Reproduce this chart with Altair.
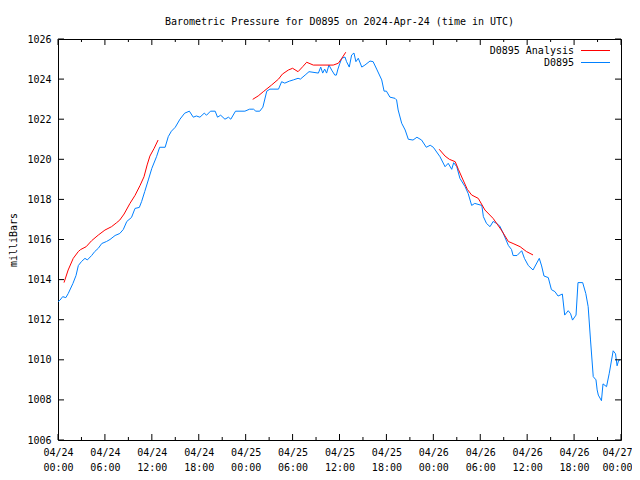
import altair as alt
import pandas as pd

# ---------------- data ----------------
station_hours = [
    0.0, 0.26, 0.6, 1.0, 1.3, 1.9, 2.3, 2.6, 3.0, 3.45,
    3.75, 4.3, 4.7, 5.15, 5.6, 6.2, 6.65, 7.3, 7.9, 8.35,
    8.8, 9.4, 9.85, 10.4, 10.7, 11.1, 11.55, 12.0, 12.6, 13.0,
    13.7, 14.1, 14.5, 15.0, 15.6, 16.2, 16.8, 17.3, 17.7, 18.15,
    18.7, 19.0, 19.5, 20.1, 20.4, 20.8, 21.35, 21.8, 22.1, 22.7,
    23.9, 24.5, 25.0, 25.3, 25.8, 26.2, 26.7, 27.1, 27.5, 28.2,
    28.6, 29.0, 29.6, 30.1, 30.7, 31.0, 31.6, 32.1, 33.3, 33.6,
    33.85, 34.1, 34.35, 34.65, 35.0, 35.4, 35.6, 35.8, 36.05, 36.3,
    36.7, 36.9, 37.25, 37.55, 37.85, 38.1, 38.4, 38.85, 39.25, 39.9,
    40.3, 40.75, 41.4, 41.7, 42.0, 42.45, 43.1, 43.3, 43.5, 43.95,
    44.4, 44.8, 45.4, 45.9, 46.5, 47.1, 47.6, 48.0, 48.85, 49.5,
    49.9, 50.35, 50.6, 51.0, 51.4, 52.05, 52.45, 52.9, 53.3, 54.2,
    54.4, 54.8, 55.25, 55.65, 56.1, 56.5, 56.95, 57.6, 58.0, 58.2,
    58.7, 59.3, 59.65, 60.15, 60.75, 61.55, 61.85, 62.15, 62.7, 63.1,
    63.55, 63.95, 64.5, 64.8, 65.25, 65.55, 65.8, 66.25, 66.5, 67.1,
    67.5, 67.8, 68.1, 68.45, 68.8, 68.95, 69.1, 69.5, 69.7, 70.15,
    70.5, 71.0, 71.3, 71.5, 71.7, 71.9,
]
station_pressure = [
    1012.9, 1012.98, 1013.15, 1013.1, 1013.3, 1013.8, 1014.2, 1014.7, 1014.9, 1015.06,
    1014.98, 1015.2, 1015.4, 1015.56, 1015.8, 1015.9, 1016.0, 1016.2, 1016.3, 1016.5,
    1016.9, 1017.1, 1017.55, 1017.6, 1017.9, 1018.4, 1018.97, 1019.55, 1020.13, 1020.6,
    1020.6, 1021.13, 1021.4, 1021.6, 1022.0, 1022.3, 1022.4, 1022.1, 1022.16, 1022.1,
    1022.3, 1022.2, 1022.4, 1022.4, 1022.1, 1022.2, 1022.0, 1022.1, 1022.0, 1022.4,
    1022.4, 1022.5, 1022.5, 1022.4, 1022.4, 1022.6, 1023.4, 1023.5, 1023.5, 1023.5,
    1023.87, 1023.8, 1023.9, 1023.96, 1024.04, 1024.0, 1024.2, 1024.37, 1024.3, 1024.6,
    1024.3, 1024.5, 1024.3, 1024.7, 1024.45, 1024.2, 1024.2, 1024.5, 1024.79, 1025.04,
    1025.1, 1024.87, 1024.6, 1025.2, 1025.3, 1024.87, 1025.04, 1024.6, 1024.7, 1024.9,
    1024.87, 1024.5, 1023.96, 1023.4, 1023.4, 1023.1, 1023.04, 1022.96, 1022.46, 1021.8,
    1021.46, 1021.0, 1020.96, 1021.1, 1020.96, 1020.6, 1020.7, 1020.6, 1020.13, 1019.63,
    1019.8, 1019.5, 1019.83, 1019.63, 1019.05, 1018.64, 1018.3, 1017.7, 1017.8, 1017.7,
    1017.14, 1016.8, 1016.64, 1016.9, 1016.8, 1016.67, 1016.3, 1015.7, 1015.5, 1015.2,
    1015.2, 1015.44, 1015.06, 1014.7, 1014.48, 1015.06, 1014.68, 1014.18, 1014.1, 1013.5,
    1013.4, 1013.18, 1013.28, 1012.23, 1012.45, 1012.3, 1011.98, 1012.23, 1013.85, 1013.85,
    1013.3, 1012.65, 1010.99, 1009.16, 1009.0, 1008.5, 1008.24, 1007.96, 1008.8, 1008.66,
    1009.33, 1010.45, 1010.3, 1009.7, 1009.97, 1010.0,
]

analysis_hours_1 = [0.77, 1.3, 1.95, 2.6, 2.9, 3.6, 4.3, 5.15, 6.0, 6.85, 7.5,
                    7.9, 8.45, 9.2, 9.85, 10.5, 11.0, 11.4, 11.75, 12.3, 12.8]
analysis_pressure_1 = [1013.85, 1014.48, 1015.06, 1015.4, 1015.5, 1015.64, 1015.94,
                       1016.22, 1016.47, 1016.64, 1016.84, 1016.97, 1017.27, 1017.8,
                       1018.2, 1018.7, 1019.13, 1019.72, 1020.16, 1020.55, 1020.96]
analysis_hours_2 = [24.9, 25.6, 26.25, 27.3, 28.2, 28.7, 29.45, 30.0, 30.7, 31.3,
                    31.8, 32.65, 35.2, 35.85, 36.3, 36.8]
analysis_pressure_2 = [1022.99, 1023.16, 1023.37, 1023.7, 1024.0, 1024.25, 1024.45,
                       1024.54, 1024.37, 1024.62, 1024.84, 1024.7, 1024.7, 1024.79,
                       1025.04, 1025.34]
analysis_hours_3 = [48.75, 49.5, 50.05, 50.8, 51.2, 51.8, 52.35, 52.9, 53.75, 54.6,
                    55.65, 56.7, 57.6, 58.2, 59.1, 59.9, 60.75]
analysis_pressure_3 = [1020.5, 1020.16, 1020.0, 1019.88, 1019.5, 1018.97, 1018.5,
                       1018.22, 1018.05, 1017.47, 1017.05, 1016.47, 1015.9, 1015.8,
                       1015.64, 1015.4, 1015.23]

series_names = ["D0895 Analysis", "D0895"]
series_colors = ["#ff0000", "#0080ff"]
title_text = "Barometric Pressure for D0895 on 2024-Apr-24 (time in UTC)"
y_title = "milliBars"
y_tick_values = list(range(1006, 1027, 2))
x_major_hours = list(range(0, 73, 6))
x_minor_hours = list(range(3, 72, 6))

# ---------------- layout ----------------
W, H = 563, 401
FONT = "DejaVu Sans Mono"

station_df = pd.DataFrame({"hours": station_hours, "mb": station_pressure})
analysis_df = pd.concat([
    pd.DataFrame({"hours": analysis_hours_1, "mb": analysis_pressure_1, "seg": 1}),
    pd.DataFrame({"hours": analysis_hours_2, "mb": analysis_pressure_2, "seg": 2}),
    pd.DataFrame({"hours": analysis_hours_3, "mb": analysis_pressure_3, "seg": 3}),
], ignore_index=True)

xscale = alt.Scale(domain=[0, 72], nice=False, zero=False)
yscale = alt.Scale(domain=[1006, 1026], nice=False, zero=False)

label_expr = ("['04/' + (24 + floor(datum.value / 24)), "
              "((datum.value % 24) < 10 ? '0' : '') + (datum.value % 24) + ':00']")

x_axis = alt.Axis(values=x_major_hours, labelExpr=label_expr, ticks=False, domain=False,
                  grid=False, labelFont=FONT, labelFontSize=10, labelColor="black",
                  labelPadding=7, labelLineHeight=15, labelAngle=0, labelOverlap=False,
                  labelFlush=False, title=None,
                  labelOffset={"condition": {"test": "datum.value >= 72", "value": -4},
                               "value": 0})
y_axis = alt.Axis(values=y_tick_values, format="d", ticks=False, domain=False, grid=False,
                  labelFont=FONT, labelFontSize=10, labelColor="black", labelPadding=7,
                  labelOverlap=False, labelFlush=False, title=y_title, titleFont=FONT,
                  titleFontSize=10, titleFontWeight="normal", titleColor="black",
                  titleX=-42, titleY=H / 2, titleAngle=-90, titleAlign="center",
                  titleBaseline="alphabetic")

station_line = alt.Chart(station_df).mark_line(color=series_colors[1], strokeWidth=1).encode(
    x=alt.X("hours:Q", scale=xscale, axis=x_axis),
    y=alt.Y("mb:Q", scale=yscale, axis=y_axis),
)
analysis_line = alt.Chart(analysis_df).mark_line(color=series_colors[0], strokeWidth=1).encode(
    x=alt.X("hours:Q", scale=xscale, axis=x_axis),
    y=alt.Y("mb:Q", scale=yscale, axis=y_axis),
    detail="seg:N",
)

major_df = pd.DataFrame({"hours": x_major_hours})
minor_df = pd.DataFrame({"hours": x_minor_hours})
ytick_df = pd.DataFrame({"mb": y_tick_values})


def xticks(df, y0, y1):
    return alt.Chart(df).mark_rule(color="black", strokeWidth=1).encode(
        x=alt.X("hours:Q", scale=xscale, axis=x_axis), y=alt.value(y0), y2=alt.value(y1))


def yticks(x0, x1):
    return alt.Chart(ytick_df).mark_rule(color="black", strokeWidth=1).encode(
        y=alt.Y("mb:Q", scale=yscale, axis=y_axis), x=alt.value(x0), x2=alt.value(x1))


tick_layers = [
    xticks(major_df, H, H - 6), xticks(minor_df, H, H - 3),
    xticks(major_df, 0, 6), xticks(minor_df, 0, 3),
    yticks(0, 6), yticks(W, W - 6),
]

legend_layers = []
for i, (name, col) in enumerate(zip(series_names, series_colors)):
    ly = 11.5 + 12 * i
    ldf = pd.DataFrame({"name": [name]})
    legend_layers.append(
        alt.Chart(ldf).mark_text(align="right", baseline="middle", font=FONT, fontSize=10,
                                 color="black").encode(
            text="name:N", x=alt.value(516), y=alt.value(ly)))
    legend_layers.append(
        alt.Chart(ldf).mark_rule(color=col, strokeWidth=1).encode(
            x=alt.value(523), x2=alt.value(552), y=alt.value(ly)))

chart = alt.layer(
    station_line, analysis_line, *tick_layers, *legend_layers
).properties(
    width=W, height=H,
    title=alt.TitleParams(text=title_text, font=FONT, fontSize=10, fontWeight="normal",
                          color="black", anchor="middle", offset=7),
    autosize=alt.AutoSizeParams(type="none"),
    padding={"left": 50, "top": 31, "right": 11, "bottom": 32},
    background="white",
).configure_view(stroke="black", strokeWidth=1)

chart.save("out.html", embed_options={"renderer": "svg", "actions": False})
